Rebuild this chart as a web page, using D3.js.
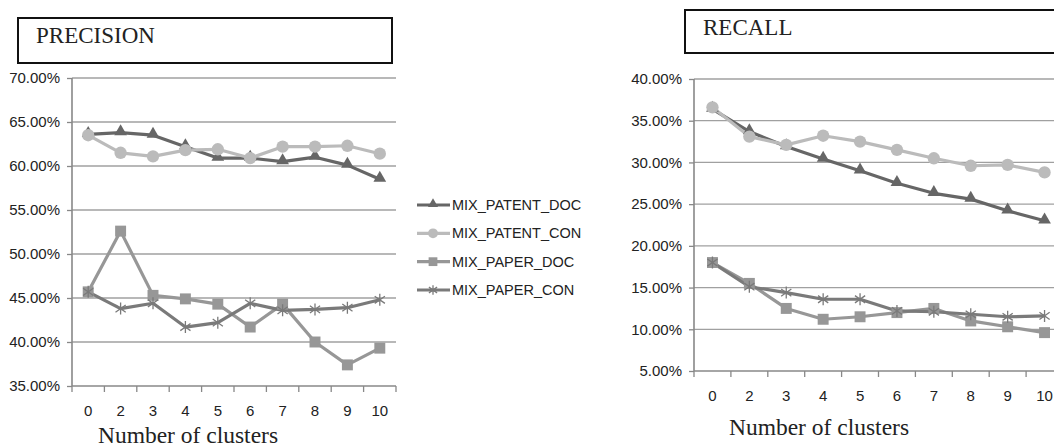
<!DOCTYPE html>
<html><head><meta charset="utf-8">
<script src="https://cdn.jsdelivr.net/npm/d3@7/dist/d3.min.js"></script>
<style>
html,body{margin:0;padding:0;background:#fff;overflow:hidden}
svg{display:block}
</style></head>
<body>
<svg id="c" width="1054" height="448"></svg>
<script>
// ---- data ----
const categories = ["0","2","3","4","5","6","7","8","9","10"];
const seriesNames = ["MIX_PATENT_DOC","MIX_PATENT_CON","MIX_PAPER_DOC","MIX_PAPER_CON"];
const precisionPatentDoc = [0.636,0.638,0.635,0.622,0.609,0.609,0.605,0.610,0.601,0.585];
const precisionPatentCon = [0.635,0.615,0.611,0.618,0.619,0.609,0.622,0.622,0.623,0.614];
const precisionPaperDoc  = [0.457,0.526,0.453,0.449,0.443,0.417,0.443,0.400,0.374,0.393];
const precisionPaperCon  = [0.457,0.438,0.444,0.417,0.422,0.444,0.436,0.437,0.439,0.448];
const recallPatentDoc = [0.364,0.337,0.319,0.304,0.290,0.275,0.263,0.256,0.242,0.230];
const recallPatentCon = [0.366,0.331,0.321,0.332,0.325,0.315,0.305,0.296,0.297,0.288];
const recallPaperDoc  = [0.180,0.155,0.125,0.112,0.115,0.120,0.125,0.110,0.103,0.096];
const recallPaperCon  = [0.180,0.151,0.144,0.136,0.136,0.122,0.121,0.118,0.115,0.116];
const precisionTicks = [0.35,0.40,0.45,0.50,0.55,0.60,0.65,0.70];
const recallTicks = [0.05,0.10,0.15,0.20,0.25,0.30,0.35,0.40];

// ---- styles ----
const colors = ["#666666","#bbbbbb","#979797","#7a7a7a"];
const shapes = ["triangle","circle","square","asterisk"];
const svg = d3.select("#c");

function marker(g, shape, color, scale){
  if(shape==="asterisk"){
    const s = 6*scale;
    g.append("path")
      .attr("d",`M0,${-s}V${s}M${-s*0.85},${-s*0.6}L${s*0.85},${s*0.6}M${-s*0.85},${s*0.6}L${s*0.85},${-s*0.6}`)
      .attr("stroke",color).attr("stroke-width",1.3).attr("fill","none");
  } else {
    const type = shape==="triangle"?d3.symbolTriangle:shape==="circle"?d3.symbolCircle:d3.symbolSquare;
    const size = shape==="triangle"?70:shape==="circle"?120:120;
    g.append("path").attr("d",d3.symbol().type(type).size(size*scale*scale)())
      .attr("fill",color).attr("transform",shape==="triangle"?"translate(0,-1)":null);
  }
}

function chart(opt){
  const x = d3.scaleBand().domain(categories).range([opt.x0,opt.x1]);
  const y = d3.scaleLinear().domain([opt.ticks[0],opt.ticks[opt.ticks.length-1]]).range([opt.y0,opt.y1]);
  const g = svg.append("g");
  // gridlines
  g.selectAll(".grid").data(opt.ticks.slice(1)).enter().append("line")
    .attr("x1",opt.x0).attr("x2",opt.x1).attr("y1",d=>y(d)).attr("y2",d=>y(d))
    .attr("stroke","#a0a0a0").attr("stroke-width",1.3);
  // y axis
  const ya = g.append("g").attr("transform",`translate(${opt.x0},0)`)
    .call(d3.axisLeft(y).tickValues(opt.ticks).tickFormat(d3.format(".2%")).tickSize(5).tickPadding(7));
  ya.select(".domain").attr("stroke","#888").attr("stroke-width",1.6).attr("d",`M0,${opt.y0}V${opt.y1}`);
  ya.selectAll(".tick line").attr("stroke","#888").attr("stroke-width",1.3);
  ya.selectAll(".tick text").attr("font-family","'Liberation Sans',Arial,sans-serif").attr("font-size",15).attr("fill","#222");
  // x axis
  const xa = g.append("g").attr("transform",`translate(0,${opt.y0})`)
    .call(d3.axisBottom(x).tickSize(0).tickPadding(19));
  xa.select(".domain").attr("stroke","#888").attr("stroke-width",1.6).attr("d",`M${opt.x0},0H${opt.x1}`);
  xa.selectAll(".tick text").attr("font-family","'Liberation Sans',Arial,sans-serif").attr("font-size",15).attr("fill","#222");
  // band boundary ticks
  const bounds = categories.map(c=>x(c)).concat([opt.x1]);
  g.selectAll(".xt").data(bounds).enter().append("line")
    .attr("x1",d=>d).attr("x2",d=>d).attr("y1",opt.y0).attr("y2",opt.y0+6)
    .attr("stroke","#888").attr("stroke-width",1.3);
  // series
  const line = d3.line().x((d,i)=>x(categories[i])+x.bandwidth()/2).y(d=>y(d));
  opt.series.forEach((vals,si)=>{
    g.append("path").attr("d",line(vals)).attr("fill","none")
      .attr("stroke",colors[si]).attr("stroke-width",3.2).attr("stroke-linejoin","round");
  });
  opt.series.forEach((vals,si)=>{
    vals.forEach((v,i)=>{
      const mg = g.append("g").attr("transform",`translate(${x(categories[i])+x.bandwidth()/2},${y(v)})`);
      marker(mg, shapes[si], colors[si], 1);
    });
  });
  // x title
  g.append("text").attr("x",opt.titleX).attr("y",opt.titleY).attr("text-anchor","middle")
    .attr("font-family","'Liberation Serif','Times New Roman',serif").attr("font-size",23.5).attr("fill","#222")
    .text("Number of clusters");
  // header box
  g.append("rect").attr("x",opt.box[0]).attr("y",opt.box[1]).attr("width",opt.box[2]).attr("height",opt.box[3])
    .attr("fill","#fff").attr("stroke","#111").attr("stroke-width",2);
  g.append("text").attr("x",opt.box[0]+18).attr("y",opt.box[1]+25)
    .attr("font-family","'Liberation Serif','Times New Roman',serif").attr("font-size",23).attr("fill","#222")
    .text(opt.header);
}

chart({x0:72,x1:396,y0:386,y1:78,ticks:precisionTicks,
  series:[precisionPatentDoc,precisionPatentCon,precisionPaperDoc,precisionPaperCon],
  titleX:188,titleY:443,box:[18,18,374,45],header:"PRECISION"});
chart({x0:694,x1:1063,y0:371,y1:79,ticks:recallTicks,
  series:[recallPatentDoc,recallPatentCon,recallPaperDoc,recallPaperCon],
  titleX:819,titleY:435,box:[685,10,400,43],header:"RECALL"});

// legend
const lg = svg.append("g");
const legendY = d3.scalePoint().domain(seriesNames).range([205,290]);
seriesNames.forEach((n,i)=>{
  const yy = legendY(n);
  lg.append("line").attr("x1",417).attr("x2",450).attr("y1",yy).attr("y2",yy)
    .attr("stroke",colors[i]).attr("stroke-width",3.2);
  const mg = lg.append("g").attr("transform",`translate(433,${yy})`);
  marker(mg, shapes[i], colors[i], 0.8);
  lg.append("text").attr("x",452).attr("y",yy).attr("dominant-baseline","central")
    .attr("font-family","'Liberation Sans',Arial,sans-serif").attr("font-size",14.5).attr("fill","#222")
    .text(n);
});
</script>
</body></html>
